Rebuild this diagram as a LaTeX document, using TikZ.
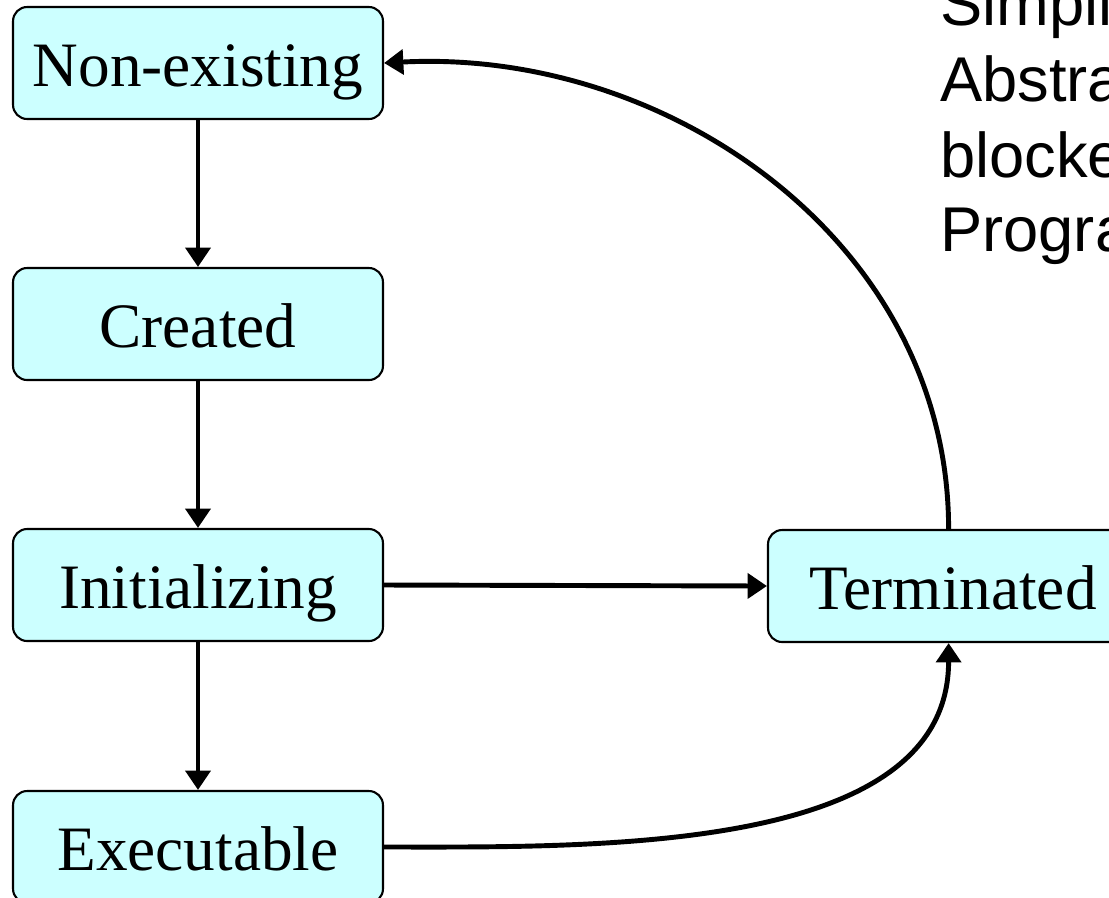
\documentclass[tikz,border=0pt]{standalone}
\usepackage{fontspec}
\setmainfont{Liberation Serif}
\newfontfamily\notefont{Liberation Sans}
\usetikzlibrary{arrows.meta}

\definecolor{boxcyan}{HTML}{CCFFFF}

\tikzset{
  state/.style={draw, fill=boxcyan, line width=1.2pt, rounded corners=8pt,
    minimum width=7.4cm, minimum height=2.24cm, inner sep=0pt,
    text height=32.4pt, text depth=5.4pt,
    font=\fontsize{36}{40}\selectfont},
  trans/.style={line width=2.8pt, -{Triangle[length=11pt,width=14pt]}},
  note/.style={anchor=base west, inner sep=0pt,
    font=\notefont\fontsize{36}{40}\selectfont}
}

\begin{document}
\begin{tikzpicture}[x=0.02cm,y=-0.02cm]
\clip (0,0) rectangle (1109,897);

%states
\node[state] (nonexist) at (198,63) {Non-existing};
\node[state] (created) at (198,324) {Created};
\node[state] (init) at (198,585) {Initializing};
\node[state] (exec) at (198,847) {Executable};
\node[state] (term) at (953,586) {Terminated};

%side text
\node[note] (line1) at (940,25) {Simpli};
\node[note] (line2) at (940,101) {Abstra};
\node[note] (line3) at (940,177) {blocke};
\node[note] (line4) at (940,251) {Progra};

%transitions
\draw[trans] (nonexist) -- (created);
\draw[trans] (created) -- (init);
\draw[trans] (init) -- (exec);
\draw[trans] (init.east) -- (term.west);
\draw[trans] (exec.east) to[out=0,in=-90,looseness=0.9] ([xshift=-2.5pt]term.south);
\draw[trans] ([xshift=-2.5pt]term.north) to[out=90,in=3,looseness=1.0] (nonexist.east);

\end{tikzpicture}
\end{document}
